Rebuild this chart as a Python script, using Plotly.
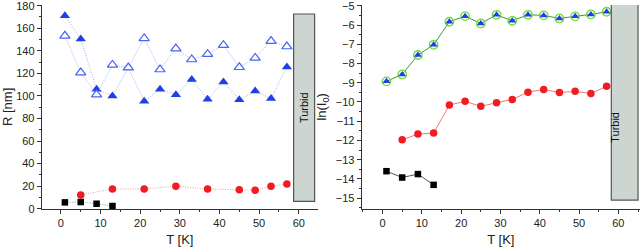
import plotly.graph_objects as go

# ---- data ----
T_all = [1, 5, 9, 13, 17, 21, 25, 29, 33, 37, 41, 45, 49, 53, 57]
R_tri_filled = [171, 150.4, 105.9, 99.9, 125, 95.2, 105.9, 101.1, 114.5, 97.0, 112.4, 96.7, 104.4, 97.6, 125.7]
R_tri_open = [153.3, 120.7, 101.1, 127.5, 125.1, 151, 123.4, 142, 132.3, 137, 145, 125.4, 133.7, 148.6, 143.8]
T_red_left = [5, 13, 21, 29, 37, 45, 49, 53, 57]
R_red = [12.2, 17.5, 17.5, 19.9, 17.5, 16.9, 16.3, 19.9, 21.9]
T_sq = [1, 5, 9, 13]
R_sq = [5.6, 5.9, 4.4, 2.4]

lnI_tri = [-8.93, -8.57, -7.56, -7.03, -5.83, -5.54, -5.92, -5.47, -5.78, -5.47, -5.50, -5.66, -5.55, -5.45, -5.31]
T_red_right = [5, 9, 13, 17, 21, 25, 29, 33, 37, 41, 45, 49, 53, 57]
lnI_red = [-11.97, -11.67, -11.62, -10.16, -9.97, -10.23, -10.04, -9.87, -9.49, -9.35, -9.51, -9.45, -9.56, -9.19]
lnI_sq = [-13.60, -13.93, -13.75, -14.31]

x_ticks = [0, 10, 20, 30, 40, 50, 60]
y_ticks_left = [0, 20, 40, 60, 80, 100, 120, 140, 160, 180]
y_ticks_right = [-15, -14, -13, -12, -11, -10, -9, -8, -7, -6, -5]

W, H = 640, 247
fig = go.Figure()

BLUE = "#1f3fe8"
DOT = "1px,1.5px"
# ---- left panel ----
fig.add_trace(go.Scatter(x=T_all, y=R_tri_filled, mode="lines+markers", xaxis="x", yaxis="y",
                         line=dict(color="#9fb0f3", width=1, dash=DOT),
                         marker=dict(symbol="triangle-up", size=9, color=BLUE, line=dict(width=0)),
                         cliponaxis=False))
fig.add_trace(go.Scatter(x=T_all, y=R_tri_open, mode="lines+markers", xaxis="x", yaxis="y",
                         line=dict(color="#9fb0f3", width=1, dash=DOT),
                         marker=dict(symbol="triangle-up", size=9, color="white", line=dict(width=1.2, color="#4a64f0")),
                         cliponaxis=False))
fig.add_trace(go.Scatter(x=T_red_left, y=R_red, mode="lines+markers", xaxis="x", yaxis="y",
                         line=dict(color="#f39a9a", width=1, dash=DOT),
                         marker=dict(symbol="circle", size=7.5, color="#f21b24"),
                         cliponaxis=False))
fig.add_trace(go.Scatter(x=T_sq, y=R_sq, mode="lines+markers", xaxis="x", yaxis="y",
                         line=dict(color="#999999", width=1, dash=DOT),
                         marker=dict(symbol="square", size=6.5, color="black"),
                         cliponaxis=False))

# ---- right panel ----
fig.add_trace(go.Scatter(x=T_all, y=lnI_tri, mode="lines+markers", xaxis="x2", yaxis="y2",
                         line=dict(color="#3a9a3a", width=1),
                         marker=dict(symbol="circle", size=8.5, color="rgba(0,0,0,0)", line=dict(width=1.3, color="#6fdc3c")),
                         cliponaxis=False))
fig.add_trace(go.Scatter(x=T_all, y=lnI_tri, mode="markers", xaxis="x2", yaxis="y2",
                         marker=dict(symbol="triangle-up", size=7, color=BLUE, line=dict(width=0)),
                         cliponaxis=False))
fig.add_trace(go.Scatter(x=T_red_right, y=lnI_red, mode="lines+markers", xaxis="x2", yaxis="y2",
                         line=dict(color="#f07a7a", width=1),
                         marker=dict(symbol="circle", size=7.5, color="#f21b24"),
                         cliponaxis=False))
fig.add_trace(go.Scatter(x=T_sq, y=lnI_sq, mode="lines+markers", xaxis="x2", yaxis="y2",
                         line=dict(color="#555555", width=1),
                         marker=dict(symbol="square", size=6.5, color="black"),
                         cliponaxis=False))

FONT = "Liberation Sans, Arial, sans-serif"
tickfont = dict(family=FONT, size=11, color="#222")
titlefont = dict(family=FONT, size=13, color="#222")

def px_x(p):
    return p / W

def px_y(p):
    return 1 - p / H

common_x = dict(showgrid=False, zeroline=False, showline=True, linecolor="#333", linewidth=1,
                ticks="outside", ticklen=4, tickcolor="#333", tickvals=x_ticks, tickfont=tickfont,
                minor=dict(ticks="outside", ticklen=2, dtick=5, tickcolor="#333", showgrid=False),
                automargin=False, ticklabeloverflow="allow")
common_y = dict(showgrid=False, zeroline=False, showline=True, linecolor="#333", linewidth=1,
                ticks="outside", ticklen=4, tickcolor="#333", tickfont=tickfont, automargin=False,
                ticklabeloverflow="allow")

fig.update_layout(
    width=W, height=H, margin=dict(l=0, r=0, t=0, b=0),
    paper_bgcolor="white", plot_bgcolor="white", showlegend=False,
    xaxis=dict(common_x, domain=[px_x(41.7), px_x(318)], range=[-4.85, 64.85], anchor="y",
               title=dict(text="T [K]", font=titlefont, standoff=8)),
    yaxis=dict(common_y, domain=[px_y(208.7), px_y(5)], range=[0, 180.6], anchor="x",
               tickvals=y_ticks_left,
               minor=dict(ticks="outside", ticklen=2, dtick=10, tickcolor="#333", showgrid=False),
               title=dict(text="R [nm]", font=titlefont, standoff=6)),
    xaxis2=dict(common_x, domain=[px_x(361.7), px_x(640)], range=[-5.3, 65.5], anchor="y2",
                title=dict(text="T [K]", font=titlefont, standoff=8)),
    yaxis2=dict(common_y, domain=[px_y(208.7), px_y(5)], range=[-15.55, -4.96], anchor="x2",
                tickvals=y_ticks_right,
                minor=dict(ticks="outside", ticklen=2, dtick=0.5, tickcolor="#333", showgrid=False),
                title=dict(text="ln(I<sub>0</sub>)", font=titlefont, standoff=6)),
)

# Turbid boxes
fig.add_shape(type="rect", xref="x", yref="y", x0=58.7, x1=64.0, y0=6.5, y1=172.6,
              fillcolor="#cdd5d1", line=dict(color="#555", width=1.2), layer="above")
fig.add_annotation(xref="x", yref="y", x=61.3, y=90, text="Turbid", textangle=-90, showarrow=False,
                   font=dict(family=FONT, size=11, color="#111"))
fig.add_shape(type="rect", xref="x2", yref="y2", x0=58.2, x1=65.0, y0=-15.1, y1=-4.93,
              fillcolor="#cdd5d1", line=dict(color="#555", width=1.2), layer="above")
fig.add_annotation(xref="x2", yref="y2", x=59.1, y=-11.3, text="Turbid", textangle=-90, showarrow=False,
                   font=dict(family=FONT, size=11, color="#111"))

fig.write_html("out.html", config={"displayModeBar": False},
               post_script="document.body.style.margin='0';")
